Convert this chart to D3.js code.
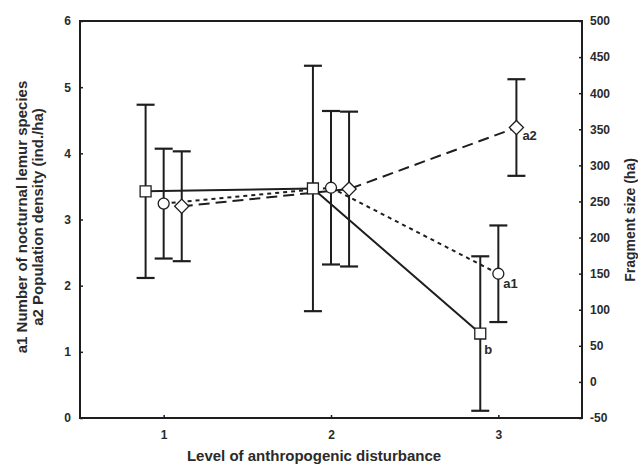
<!DOCTYPE html>
<html>
<head>
<meta charset="utf-8">
<script src="https://cdn.jsdelivr.net/npm/d3@7/dist/d3.min.js"></script>
<style>
  body { margin: 0; background: #fff; }
  text { font-family: "Liberation Sans", Arial, sans-serif; font-weight: bold; fill: #2a2a2a; }
</style>
</head>
<body>
<div id="chart"></div>
<script>
  // data
  const levels = [1, 2, 3];
  const xTicks = [1, 2, 3];
  const leftTicks = [0, 1, 2, 3, 4, 5, 6];
  const rightTicks = [-50, 0, 50, 100, 150, 200, 250, 300, 350, 400, 450, 500];

  // b: fragment size (ha), right axis
  const bMean = [264, 268, 67];
  const bErr = [120, 170, 107];
  // a1: number of nocturnal lemur species, left axis
  const a1Mean = [3.24, 3.48, 2.18];
  const a1Err = [0.83, 1.16, 0.73];
  // a2: population density, left axis
  const a2Mean = [3.20, 3.46, 4.39];
  const a2Err = [0.83, 1.17, 0.73];

  const width = 638, height = 465;
  const margin = { top: 21, right: 56, bottom: 47, left: 80 };
  const w = width - margin.left - margin.right;
  const h = height - margin.top - margin.bottom;

  const svg = d3.select("#chart").append("svg")
    .attr("width", width)
    .attr("height", height);
  const g = svg.append("g")
    .attr("transform", `translate(${margin.left}, ${margin.top})`);

  const x = d3.scaleLinear().domain([0.5, 3.5]).range([0, w]);
  const yL = d3.scaleLinear().domain([0, 6]).range([h, 0]);
  const yR = d3.scaleLinear().domain([-50, 500]).range([h, 0]);

  const ink = "#1e1e1e";
  const plain = d => String(d);

  // axes (ticks pointing inward, small)
  const axL = g.append("g").call(d3.axisLeft(yL).tickValues(leftTicks).tickFormat(plain).tickSize(-3).tickPadding(9));
  const axR = g.append("g").attr("transform", `translate(${w},0)`)
    .call(d3.axisRight(yR).tickValues(rightTicks).tickFormat(plain).tickSize(-3).tickPadding(8));
  const axB = g.append("g").attr("transform", `translate(0,${h})`)
    .call(d3.axisBottom(x).tickValues(xTicks).tickFormat(plain).tickSize(-3).tickPadding(12));
  [axL, axR, axB].forEach(a => {
    a.selectAll(".domain").remove();
    a.selectAll("line").attr("stroke", ink).attr("stroke-width", 1.5);
    a.selectAll("text").style("font-size", "12px").attr("fill", "#2a2a2a");
  });

  // frame
  g.append("rect")
    .attr("width", w).attr("height", h)
    .attr("fill", "none").attr("stroke", ink).attr("stroke-width", 2);

  const off = 0.108;
  const series = [
    { mean: bMean, err: bErr, y: yR, dx: -off, dash: null, marker: "square", label: "b", lx: 4, ly: 20 },
    { mean: a1Mean, err: a1Err, y: yL, dx: 0, dash: "4,4", marker: "circle", label: "a1", lx: 5, ly: 14 },
    { mean: a2Mean, err: a2Err, y: yL, dx: off, dash: "11,6", marker: "diamond", label: "a2", lx: 6, ly: 12 }
  ];

  // connecting lines
  series.forEach(s => {
    const line = d3.line()
      .x((d, i) => x(levels[i] + s.dx))
      .y(d => s.y(d));
    g.append("path")
      .datum(s.mean)
      .attr("d", line)
      .attr("fill", "none")
      .attr("stroke", ink)
      .attr("stroke-width", 2)
      .attr("stroke-dasharray", s.dash);
  });

  // error bars
  series.forEach(s => {
    const eb = g.append("g");
    s.mean.forEach((m, i) => {
      const cx = x(levels[i] + s.dx);
      const top = s.y(m + s.err[i]), bot = s.y(m - s.err[i]);
      eb.append("line").attr("x1", cx).attr("x2", cx).attr("y1", top).attr("y2", bot)
        .attr("stroke", ink).attr("stroke-width", 2);
      [top, bot].forEach(yy => {
        eb.append("line").attr("x1", cx - 9).attr("x2", cx + 9).attr("y1", yy).attr("y2", yy)
          .attr("stroke", ink).attr("stroke-width", 2.2);
      });
    });
  });

  // markers
  const sym = { square: d3.symbolSquare, circle: d3.symbolCircle, diamond: d3.symbolSquare };
  series.forEach(s => {
    s.mean.forEach((m, i) => {
      const cx = x(levels[i] + s.dx), cy = s.y(m);
      let size = s.marker === "square" ? 120 : s.marker === "circle" ? 95 : 100;
      g.append("path")
        .attr("d", d3.symbol().type(sym[s.marker]).size(size)())
        .attr("transform", `translate(${cx},${cy})` + (s.marker === "diamond" ? " rotate(45)" : ""))
        .attr("fill", "#fff")
        .attr("stroke", ink)
        .attr("stroke-width", 1.3);
    });
    const last = s.mean.length - 1;
    g.append("text")
      .attr("x", x(levels[last] + s.dx) + s.lx)
      .attr("y", s.y(s.mean[last]) + s.ly)
      .style("font-size", "13px")
      .text(s.label);
  });

  // axis titles
  svg.append("text")
    .attr("transform", `translate(27, 217) rotate(-90)`)
    .attr("text-anchor", "middle")
    .style("font-size", "15px")
    .text("a1 Number of nocturnal lemur species");
  svg.append("text")
    .attr("transform", `translate(43, 217) rotate(-90)`)
    .attr("text-anchor", "middle")
    .style("font-size", "15px")
    .text("a2 Population density (ind./ha)");
  svg.append("text")
    .attr("transform", `translate(635, 220) rotate(-90)`)
    .attr("text-anchor", "middle")
    .style("font-size", "14px")
    .text("Fragment size (ha)");
  svg.append("text")
    .attr("x", 314).attr("y", 461)
    .attr("text-anchor", "middle")
    .style("font-size", "15px")
    .text("Level of anthropogenic disturbance");
</script>
</body>
</html>
